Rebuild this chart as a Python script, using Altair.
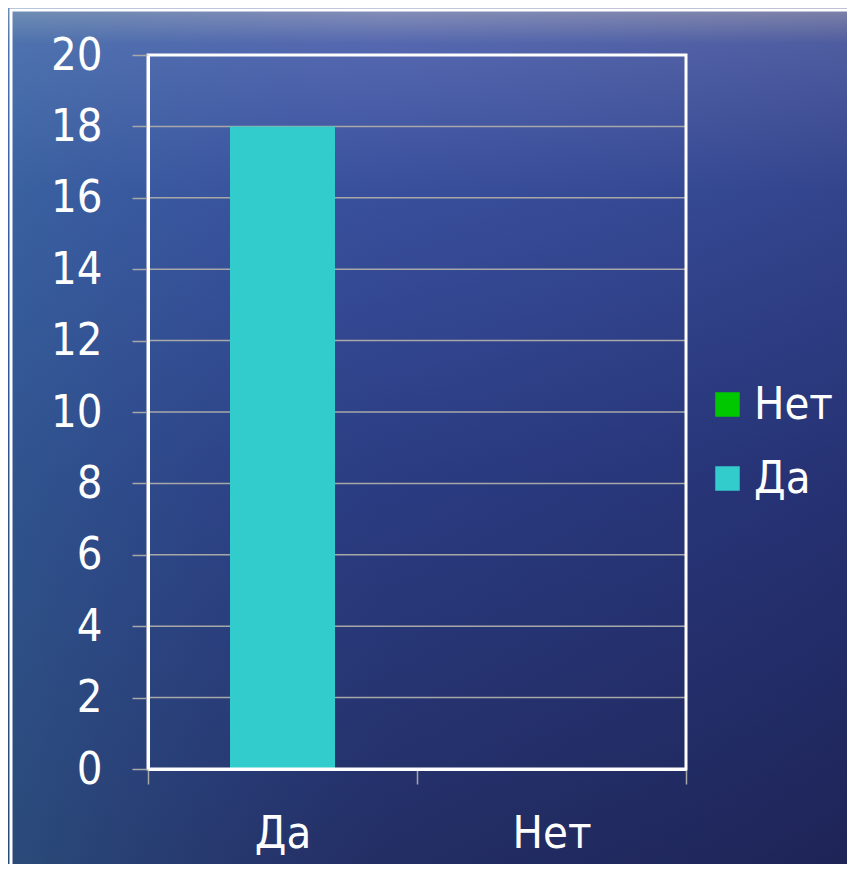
import altair as alt
import pandas as pd

# ---- data ----
categories = ["Да", "Нет"]
values = [18, 0]
category_colors = {"Да": "#33CCCC", "Нет": "#00C800"}
legend_order = ["Нет", "Да"]
y_ticks = [0, 2, 4, 6, 8, 10, 12, 14, 16, 18, 20]

W, H = 538, 714
FONT = "DejaVu Sans Condensed, DejaVu Sans, sans-serif"
GRID = "#a8a8a8"

bars_df = pd.DataFrame({"cat": categories, "value": values})
grid_df = pd.DataFrame({"tick": y_ticks})
one = pd.DataFrame({"k": [0]})

y_scale = alt.Scale(domain=[0, 20], nice=False, zero=True)
y_axis = alt.Axis(
    title=None, values=y_ticks, grid=False, zindex=1,
    labelFont=FONT, labelFontSize=45, labelColor="white",
    labelPadding=30, tickSize=16, tickColor=GRID, tickWidth=1.5,
    domainColor="white", domainWidth=3,
)

# background gradient (decoration)
bg = alt.Chart(one).mark_rect(
    color=alt.LinearGradient(
        gradient="linear", x1=0, x2=0, y1=0, y2=1,
        stops=[
            alt.GradientStop(offset=0.0, color="#a0a2bc"),
            alt.GradientStop(offset=0.05, color="#5868b0"),
            alt.GradientStop(offset=0.22, color="#384c9a"),
            alt.GradientStop(offset=0.55, color="#28367c"),
            alt.GradientStop(offset=1.0, color="#1f265a"),
        ],
    )
).encode(x=alt.value(-148), x2=alt.value(707), y=alt.value(-55), y2=alt.value(817))

overlay = alt.Chart(one).mark_rect(
    color=alt.LinearGradient(
        gradient="linear", x1=0, x2=1, y1=0, y2=0,
        stops=[
            alt.GradientStop(offset=0.0, color="rgba(60,130,170,0.40)"),
            alt.GradientStop(offset=0.45, color="rgba(60,100,170,0.12)"),
            alt.GradientStop(offset=1.0, color="rgba(20,20,60,0.15)"),
        ],
    )
).encode(x=alt.value(-148), x2=alt.value(707), y=alt.value(-55), y2=alt.value(817))

frame = alt.Chart(one).mark_rect(
    fillOpacity=0, stroke="white", strokeWidth=3
).encode(x=alt.value(-137), x2=alt.value(720), y=alt.value(-45), y2=alt.value(830))

grid = alt.Chart(grid_df).mark_rule(color=GRID, strokeWidth=1.5).encode(
    y=alt.Y("tick:Q", scale=y_scale, axis=y_axis)
)

bars = alt.Chart(bars_df).mark_bar(size=105).encode(
    x=alt.X(
        "cat:N", sort=categories,
        scale=alt.Scale(paddingInner=0, paddingOuter=0),
        axis=alt.Axis(
            title=None, labelAngle=0, zindex=1, tickBand="extent",
            labelFont=FONT, labelFontSize=45, labelColor="white",
            labelPadding=27, tickSize=15, tickColor=GRID, tickWidth=1.5,
            domainColor="white", domainWidth=3,
        ),
    ),
    y=alt.Y("value:Q", scale=y_scale, axis=y_axis),
    color=alt.Color(
        "cat:N",
        scale=alt.Scale(domain=legend_order,
                        range=[category_colors[c] for c in legend_order]),
        legend=alt.Legend(
            title=None, orient="none", legendX=557, legendY=327,
            symbolType="square", symbolSize=600, symbolStrokeWidth=0,
            labelFont=FONT, labelFontSize=45, labelColor="white",
            labelOffset=4, rowPadding=28, padding=0,
        ),
    ),
)

border = alt.Chart(one).mark_rect(
    fillOpacity=0, stroke="white", strokeWidth=3
).encode(x=alt.value(0), x2=alt.value(W), y=alt.value(0), y2=alt.value(H))

chart = alt.layer(bg, overlay, frame, grid, bars, border).properties(
    width=W, height=H,
    padding={"left": 140, "top": 47, "right": 161, "bottom": 95},
    autosize=alt.AutoSizeParams(type="none"),
    background="#1f265a",
).configure_view(stroke=None)

chart.save("out.html", embed_options={"renderer": "svg", "actions": False})
